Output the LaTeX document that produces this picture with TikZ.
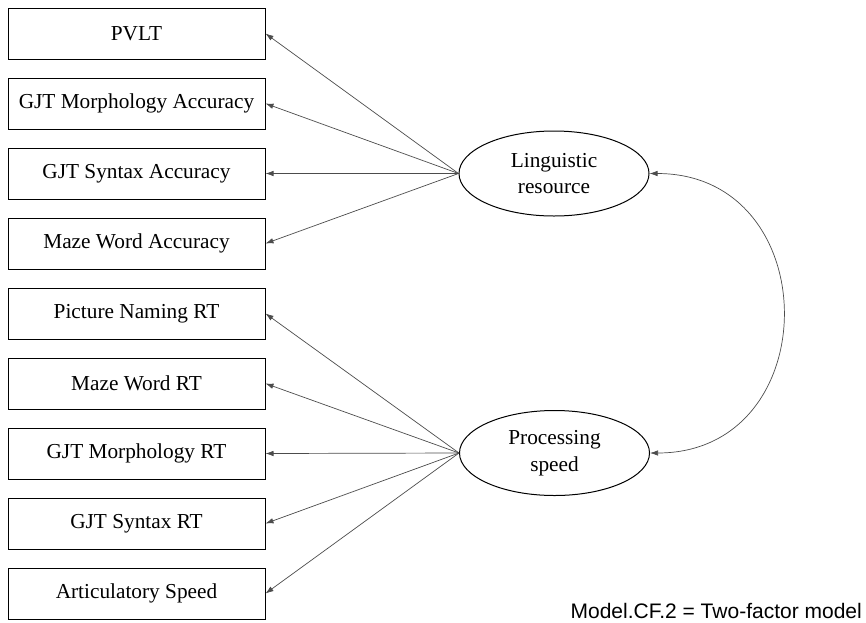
\documentclass[tikz,border=0pt]{standalone}
\usepackage{fontspec}
\setmainfont{Liberation Serif}
\newfontfamily\arialfont{Liberation Sans}
\usetikzlibrary{arrows.meta,shapes.geometric}
\begin{document}
\begin{tikzpicture}[x=1pt,y=-1pt,
  obsbox/.style={draw=black,line width=1pt,minimum width=257pt,minimum height=51pt,inner sep=0pt,
    font=\fontsize{21.3}{26}\selectfont},
  latent/.style={draw=black,line width=1pt,ellipse,minimum width=190pt,minimum height=85pt,inner sep=0pt,
    align=center,font=\fontsize{21.3}{26.5}\selectfont},
  load/.style={draw=black!70,line width=0.7pt,-{Latex[length=8pt,width=5.5pt]}},
  cov/.style={draw=black!70,line width=0.7pt,{Latex[length=8pt,width=5.5pt]}-{Latex[length=8pt,width=5.5pt]}}
]
\useasboundingbox (0,0) rectangle (866,622);
\node[obsbox] (b1) at (136.5,33.5) {PVLT};
\node[obsbox] (b2) at (136.5,103.5) {GJT Morphology Accuracy};
\node[obsbox] (b3) at (136.5,173.5) {GJT Syntax Accuracy};
\node[obsbox] (b4) at (136.5,243.5) {Maze Word Accuracy};
\node[obsbox] (b5) at (136.5,313.5) {Picture Naming RT};
\node[obsbox] (b6) at (136.5,383.5) {Maze Word RT};
\node[obsbox] (b7) at (136.5,453.5) {GJT Morphology RT};
\node[obsbox] (b8) at (136.5,523.5) {GJT Syntax RT};
\node[obsbox] (b9) at (136.5,593.5) {Articulatory Speed};
\node[latent] (L) at (554,173.5) {Linguistic\\resource};
\node[latent] (P) at (554.5,453) {Processing\\speed};
\foreach \i in {1,2,3,4} { \draw[load] (L.west) -- (b\i.east); }
\foreach \i in {5,6,7,8,9} { \draw[load] (P.west) -- (b\i.east); }
\draw[cov] (L.east) .. controls +(177,0) and +(177,0) .. (P.east);
\node[anchor=base east,inner sep=0pt,font=\arialfont\fontsize{21}{25}\selectfont] (cap) at (862,618) {Model.CF.2 = Two-factor model};
\end{tikzpicture}
\end{document}
